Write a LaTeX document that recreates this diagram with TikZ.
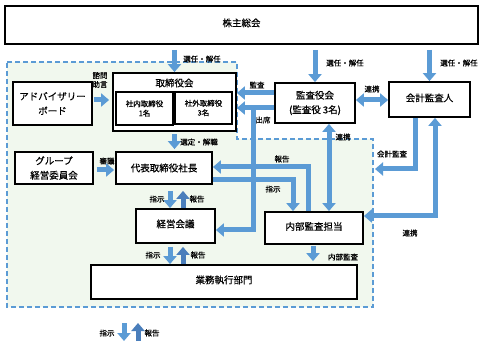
\documentclass[tikz,border=0pt]{standalone}
\usepackage{fontspec}
\setmainfont{Noto Sans CJK JP}[FakeBold=0.6]
\usetikzlibrary{arrows.meta,calc}
\definecolor{ablue}{HTML}{5B9BD5}
\definecolor{dblue}{HTML}{4A7EBB}
\definecolor{rgfill}{HTML}{F1F8EE}
\newcommand\bxfont{\fontsize{9.5}{14.5}\selectfont}
\newcommand\lbfont{\fontsize{7.5}{9}\selectfont}
\newcommand\infont{\fontsize{7.5}{9.5}\selectfont}
\begin{document}
\begin{tikzpicture}[x=1pt,y=-1pt,
  box/.style={draw=black,line width=1.8pt,fill=white,inner sep=0pt,align=center,font=\bxfont},
  lbl/.style={inner sep=0pt,font=\lbfont,align=center},
  arr/.style={draw=ablue,line width=5pt,-{Triangle[width=13pt,length=8pt]}},
  arrd/.style={arr,draw=dblue},
  arrb/.style={draw=ablue,line width=5pt,{Triangle[width=13pt,length=8pt]}-{Triangle[width=13pt,length=8pt]}},
  region/.style={draw=ablue,line width=1.5pt,dash pattern=on 5pt off 3pt,fill=rgfill}
]
\useasboundingbox[fill=white] (0,0) rectangle (495,347);
% dashed region
\draw[region] (7,62) -- (237,62) -- (237,139) -- (373,139) -- (373,307) -- (7,307) -- cycle;

% boxes
\node[box,minimum width=473pt,minimum height=38pt,text depth=5pt] (sh) at (241.5,25) {株主総会};
\node[box,minimum width=79pt,minimum height=43pt] (ab) at (52.5,103.5) {アドバイザリー\\ボード};
\node[box,minimum width=123pt,minimum height=58pt] (bd) at (174.5,102) {};
\node[lbl,font=\bxfont] (bdt) at (174.5,83) {取締役会};
\node[box,font=\infont,minimum width=57pt,minimum height=33pt] (in1) at (144.5,108.5) {社内取締役\\1名};
\node[box,font=\infont,minimum width=57pt,minimum height=32pt] (in2) at (203.5,108) {社外取締役\\3名};
\node[box,minimum width=80pt,minimum height=40pt] (ka) at (315,103) {監査役会\\(監査役 3名)};
\node[box,minimum width=81pt,minimum height=35pt,text depth=4pt] (au) at (429.5,99.5) {会計監査人};
\node[box,minimum width=78pt,minimum height=32pt] (gc) at (54,168) {グループ\\経営委員会};
\node[box,minimum width=96pt,minimum height=32pt] (ceo) at (164,168) {代表取締役社長};
\node[box,minimum width=79pt,minimum height=34pt,text depth=5pt] (mc) at (175.5,226) {経営会議};
\node[box,minimum width=98pt,minimum height=32pt,text depth=4pt] (ia) at (314,228) {内部監査担当};
\node[box,minimum width=266pt,minimum height=34pt,text depth=5pt] (op) at (224,282) {業務執行部門};

\coordinate (j1) at (253,108);
\coordinate (rgedge) at (375,169);
\coordinate (l1a) at (124,323);
\coordinate (l1b) at (124,341);
\coordinate (l2a) at (138,341);
\coordinate (l2b) at (138,323);

% arrows
\draw[arr] ($(sh.south -| bd)+(0,5)$) -- (bd.north);
\draw[arr] ($(sh.south -| ka)+(0,5)$) -- (ka.north);
\draw[arr] ($(sh.south -| au)+(0,5)$) -- (au.north);
\draw[arr,shorten <=1pt,shorten >=3pt] (ab.east |- 0,100) -- (bd.west |- 0,100);
\draw[arr] (ka.west |- 0,93) -- (bd.east |- 0,93);
\draw[arr] (ka.west |- 0,108) -- (bd.east |- 0,108);
\draw[arr] (j1) |- (mc.east |- 0,230);
\draw[arrb] (ka.east |- 0,100) -- (au.west |- 0,100);
\draw[arrb] (ka.south -| 329,0) -- (ia.north -| 329,0);
\draw[arr] (au.south -| 415,0) |- (rgedge);
\draw[arrb] (au.south -| 435,0) |- (ia.east |- 0,216);
\draw[arr,shorten <=2pt,shorten >=2pt] (bd.south) -- (bd.south |- ceo.north);
\draw[arr,shorten <=3pt,shorten >=1pt] (gc.east |- 0,170) -- (ceo.west |- 0,170);
\draw[arr,shorten <=6pt] (ceo.south -| 170,0) -- (mc.north -| 170,0);
\draw[arrd,shorten >=6pt] (mc.north -| 183,0) -- (ceo.south -| 183,0);
\draw[arr,shorten <=3pt] (mc.south -| 170,0) -- (op.north -| 170,0);
\draw[arrd,shorten >=3pt] (op.north -| 183,0) -- (mc.south -| 183,0);
\draw[arr,shorten <=1pt,shorten >=3pt] (ia.south -| 313,0) -- (op.north -| 313,0);
\draw[arr] (ia.north -| 308,0) |- (ceo.east |- 0,167);
\draw[arr] (ceo.east |- 0,180) -| (ia.north -| 293,0);
\draw[arr] (l1a) -- (l1b);
\draw[arrd] (l2a) -- (l2b);

% labels
\node[lbl] (t1) at (202,59) {選任・解任};
\node[lbl] (t2) at (345,63) {選任・解任};
\node[lbl] (t3) at (459,63) {選任・解任};
\node[lbl] (t4) at (100,80) {諮問\\助言};
\node[lbl] (t5) at (257,85) {監査};
\node[lbl] (t6) at (263,120) {出席};
\node[lbl] (t7) at (372,89) {連携};
\node[lbl] (t8) at (343,137) {連携};
\node[lbl] (t9) at (392,154) {会計監査};
\node[lbl] (t10) at (410,233) {連携};
\node[lbl] (t11) at (199,142) {選定・解職};
\node[lbl] (t12) at (107,161) {審議};
\node[lbl] (t13) at (282,159) {報告};
\node[lbl] (t14) at (273,189) {指示};
\node[lbl] (t15) at (157,199) {指示};
\node[lbl] (t16) at (197,199) {報告};
\node[lbl] (t17) at (153,255) {指示};
\node[lbl] (t18) at (198,255) {報告};
\node[lbl] (t19) at (343,257) {内部監査};
\node[lbl] (t20) at (107,333) {指示};
\node[lbl] (t21) at (152,333) {報告};
\end{tikzpicture}
\end{document}
